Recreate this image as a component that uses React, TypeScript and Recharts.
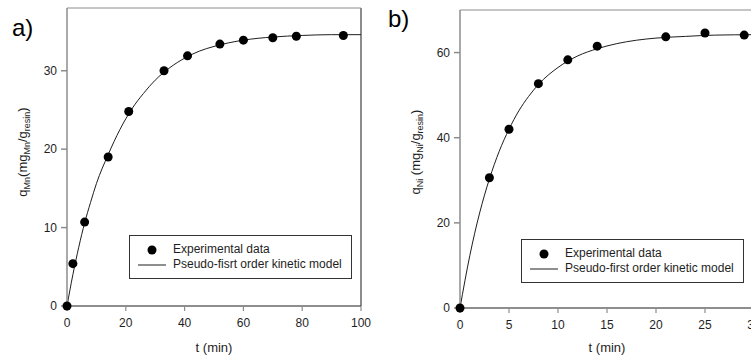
import React from "react";
import {
    ComposedChart,
    Line,
    Scatter,
    XAxis,
    YAxis,
    ReferenceLine,
    Legend,
} from "recharts";

// a) Mn uptake
const timeMn = [0, 2, 6, 14, 21, 33, 41, 52, 60, 70, 78, 94];
const qMn = [0, 5.4, 10.7, 19.0, 24.8, 30.0, 31.9, 33.4, 33.9, 34.2, 34.4, 34.5];
const fitTimeMn = [0, 2, 4, 6, 8, 10, 14, 18, 22, 26, 30, 35, 40, 45, 50, 60, 70, 80, 90, 100];
const fitMn = [0, 4.0, 7.5, 10.6, 13.2, 15.6, 19.3, 22.5, 25.1, 27.1, 28.8, 30.4, 31.6, 32.5, 33.1, 33.9, 34.3, 34.5, 34.6, 34.6];
const ticksXMn = [0, 20, 40, 60, 80, 100];
const ticksYMn = [0, 10, 20, 30];

// b) Ni uptake
const timeNi = [0, 3, 5, 8, 11, 14, 21, 25, 29];
const qNi = [0, 30.6, 42.0, 52.7, 58.3, 61.5, 63.7, 64.6, 64.1];
const fitTimeNi = [0, 1, 2, 3, 4, 5, 6, 7, 8, 10, 12, 14, 16, 18, 20, 23, 26, 30];
const fitNi = [0, 12.3, 22.3, 30.3, 36.8, 42.0, 46.3, 49.7, 52.5, 56.5, 59.2, 60.9, 62.1, 62.9, 63.4, 63.8, 64.1, 64.2];
const ticksXNi = [0, 5, 10, 15, 20, 25, 30];
const ticksYNi = [0, 20, 40, 60];

const FONT = '"Liberation Sans", Arial, sans-serif';
const AXIS_GRAY = "#8c8c8c";
const INK = "#1e1e1e";

const toRows = (t: number[], q: number[]) => t.map((v, i) => ({ t: v, q: q[i] }));

const Dot = (props: any) => <circle cx={props.cx} cy={props.cy} r={4.5} fill="#000" />;

function KineticLegend({ model }: { model: string }) {
    return (
        <div
            style={{
                position: "relative",
                width: 223,
                height: 44,
                boxSizing: "border-box",
                border: "1px solid #333",
                background: "#fff",
                fontFamily: FONT,
                fontSize: 12,
                color: INK,
            }}
        >
            <svg width={40} height={42} style={{ position: "absolute", left: 0, top: 0 }}>
                <circle cx={22} cy={14} r={4.5} fill="#000" />
                <line x1={8} x2={36} y1={29} y2={29} stroke={INK} strokeWidth={1} />
            </svg>
            <div style={{ position: "absolute", left: 43, top: 6, lineHeight: "14px" }}>Experimental data</div>
            <div style={{ position: "absolute", left: 43, top: 21, lineHeight: "14px" }}>{model}</div>
        </div>
    );
}

function YTitle({ x, y, metal, gap }: { x: number; y: number; metal: string; gap: string }) {
    return (
        <text
            x={x}
            y={y}
            transform={`rotate(-90, ${x}, ${y})`}
            textAnchor="middle"
            fontSize={13}
            fontFamily={FONT}
            fill={INK}
        >
            q
            <tspan dy={3} fontSize={9}>{metal}</tspan>
            <tspan dy={-3}>{gap}(mg</tspan>
            <tspan dy={3} fontSize={9}>{metal}</tspan>
            <tspan dy={-3}>/g</tspan>
            <tspan dy={3} fontSize={9}>resin</tspan>
            <tspan dy={-3}>)</tspan>
        </text>
    );
}

function XTitle({ x, y }: { x: number; y: number }) {
    return (
        <text x={x} y={y} textAnchor="middle" fontSize={13} fontFamily={FONT} fill={INK}>
            t (min)
        </text>
    );
}

function Panel(props: {
    left: number;
    width: number;
    margin: { top: number; right: number; bottom: number; left: number };
    yAxisWidth: number;
    xMax: number;
    yMax: number;
    xTicks: number[];
    yTicks: number[];
    points: { t: number; q: number }[];
    fit: { t: number; q: number }[];
    metal: string;
    gap: string;
    titleX: number;
    letter: string;
    letterPos: { left: number; top: number };
    legendPos: { left: number; top: number };
    model: string;
}) {
    const plotLeft = props.margin.left + props.yAxisWidth;
    const plotRight = props.width - props.margin.right;
    return (
        <div style={{ position: "absolute", left: props.left, top: 0 }}>
            <ComposedChart width={props.width} height={357} margin={props.margin}>
                <XAxis
                    dataKey="t"
                    type="number"
                    domain={[0, props.xMax]}
                    ticks={props.xTicks}
                    height={30}
                    tickSize={5}
                    tickMargin={7}
                    stroke={INK}
                    strokeWidth={1.2}
                    tickLine={{ stroke: AXIS_GRAY }}
                    tick={{ fill: INK, fontSize: 12, fontFamily: FONT }}
                    label={{
                        content: () => <XTitle x={(plotLeft + plotRight) / 2} y={352} />,
                    }}
                />
                <YAxis
                    dataKey="q"
                    type="number"
                    domain={[0, props.yMax]}
                    ticks={props.yTicks}
                    width={props.yAxisWidth}
                    tickSize={6}
                    tickMargin={4}
                    stroke={AXIS_GRAY}
                    strokeWidth={1.5}
                    tick={{ fill: INK, fontSize: 12, fontFamily: FONT }}
                    label={{
                        content: () => <YTitle x={props.titleX} y={152} metal={props.metal} gap={props.gap} />,
                    }}
                />
                <ReferenceLine y={props.yMax} stroke={AXIS_GRAY} strokeWidth={1} />
                <ReferenceLine x={props.xMax} stroke={AXIS_GRAY} strokeWidth={2} />
                <Line
                    data={props.fit}
                    dataKey="q"
                    type="monotone"
                    stroke={INK}
                    strokeWidth={1}
                    dot={false}
                    activeDot={false}
                    isAnimationActive={false}
                    legendType="line"
                />
                <Scatter
                    data={props.points}
                    dataKey="q"
                    fill="#000"
                    shape={Dot}
                    isAnimationActive={false}
                />
                <Legend
                    layout="horizontal"
                    verticalAlign="middle"
                    align="center"
                    wrapperStyle={{ left: props.legendPos.left, top: props.legendPos.top, width: 223, height: 44 }}
                    content={() => <KineticLegend model={props.model} />}
                />
            </ComposedChart>
            <div
                style={{
                    position: "absolute",
                    left: props.letterPos.left,
                    top: props.letterPos.top,
                    fontFamily: FONT,
                    fontSize: 24,
                    lineHeight: "24px",
                    color: "#000",
                }}
            >
                {props.letter}
            </div>
        </div>
    );
}

export default function App() {
    return (
        <div
            style={{
                position: "absolute",
                left: 0,
                top: 0,
                width: 751,
                height: 357,
                overflow: "hidden",
                background: "#fff",
            }}
        >
            <Panel
                left={0}
                width={375}
                margin={{ top: 8, right: 14, bottom: 21, left: 0 }}
                yAxisWidth={67}
                xMax={100}
                yMax={38}
                xTicks={ticksXMn}
                yTicks={ticksYMn}
                points={toRows(timeMn, qMn)}
                fit={toRows(fitTimeMn, fitMn)}
                metal="Mn"
                gap=""
                titleX={27}
                letter="a)"
                letterPos={{ left: 12, top: 16 }}
                legendPos={{ left: 129, top: 235 }}
                model="Pseudo-fisrt order kinetic model"
            />
            <Panel
                left={375}
                width={400}
                margin={{ top: 10, right: 21, bottom: 19, left: 0 }}
                yAxisWidth={85}
                xMax={30}
                yMax={70}
                xTicks={ticksXNi}
                yTicks={ticksYNi}
                points={toRows(timeNi, qNi)}
                fit={toRows(fitTimeNi, fitNi)}
                metal="Ni"
                gap=" "
                titleX={45}
                letter="b)"
                letterPos={{ left: 13, top: 7 }}
                legendPos={{ left: 146, top: 239 }}
                model="Pseudo-first order kinetic model"
            />
        </div>
    );
}
